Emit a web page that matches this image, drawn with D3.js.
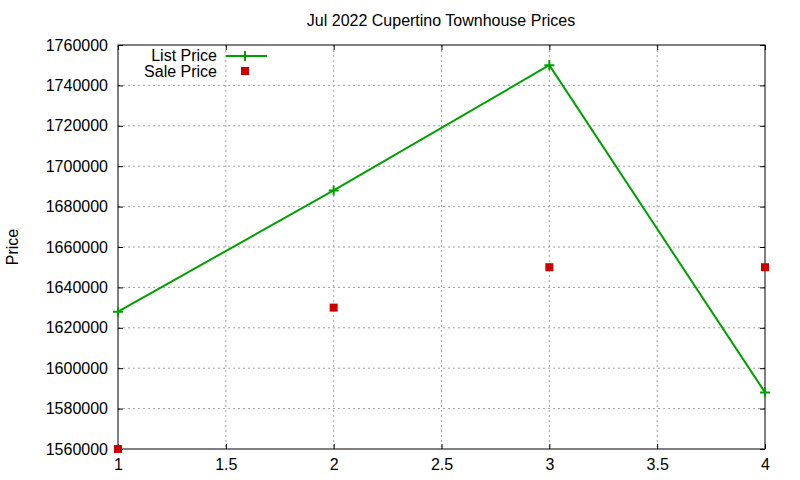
<!DOCTYPE html>
<html>
<head>
<meta charset="utf-8">
<script src="https://cdn.jsdelivr.net/npm/d3@7"></script>
<style>
  body { margin: 0; background: #fff; }
  text { font-family: "Liberation Sans", Arial, sans-serif; fill: #000; }
  .grid line { stroke: #a0a0a0; stroke-dasharray: 2,3; }
</style>
</head>
<body>
<div id="chart"></div>
<script>
// chart data
const title = "Jul 2022 Cupertino Townhouse Prices"
const months = [1, 2, 3, 4]
const listPrice = [1628000, 1688000, 1750000, 1588000]
const salePrice = [1560000, 1630000, 1650000, 1650000]
const xTicks = [1, 1.5, 2, 2.5, 3, 3.5, 4]
const yTicks = [1560000, 1580000, 1600000, 1620000, 1640000, 1660000, 1680000, 1700000, 1720000, 1740000, 1760000]

var margin = { top: 45, right: 35, bottom: 31, left: 118 },
    width = 800 - margin.left - margin.right,
    height = 480 - margin.top - margin.bottom;

let svg = d3.select("#chart")
    .append("svg")
    .attr("width", 800)
    .attr("height", 480)

let g = svg.append("g")
    .attr("transform", "translate(" + margin.left + "," + margin.top + ")")

let xScale = d3.scaleLinear().domain([1, 4]).range([0, width])
let yScale = d3.scaleLinear().domain([1560000, 1760000]).range([height, 0])

// grid lines
g.append("g").attr("class", "grid")
    .selectAll("line")
    .data(xTicks.slice(1, -1))
    .enter().append("line")
    .attr("x1", d => xScale(d)).attr("x2", d => xScale(d))
    .attr("y1", 0).attr("y2", height)

g.append("g").attr("class", "grid")
    .selectAll("line")
    .data(yTicks.slice(1, -1))
    .enter().append("line")
    .attr("y1", d => yScale(d)).attr("y2", d => yScale(d))
    .attr("x1", 0).attr("x2", width)

// axes, ticks inward, mirrored on top and right
const fmt = d3.format("")
function styleAxis(sel) {
    sel.select(".domain").remove()
    sel.selectAll("line").attr("stroke", "#000")
    sel.selectAll("text").style("font-size", "16px")
}

g.append("g")
    .attr("transform", "translate(0," + height + ")")
    .call(d3.axisBottom(xScale).tickValues(xTicks).tickFormat(fmt).tickSize(-5).tickPadding(10))
    .call(styleAxis)

g.append("g")
    .call(d3.axisLeft(yScale).tickValues(yTicks).tickFormat(fmt).tickSize(-5).tickPadding(10))
    .call(styleAxis)

g.append("g")
    .call(d3.axisTop(xScale).tickValues(xTicks).tickFormat("").tickSize(-5))
    .call(styleAxis)

g.append("g")
    .attr("transform", "translate(" + width + ",0)")
    .call(d3.axisRight(yScale).tickValues(yTicks).tickFormat("").tickSize(-5))
    .call(styleAxis)

// border
g.append("rect")
    .attr("width", width).attr("height", height)
    .attr("fill", "none").attr("stroke", "#000")

// title and axis label
svg.append("text")
    .attr("x", 441).attr("y", 26)
    .attr("text-anchor", "middle")
    .style("font-size", "16px")
    .text(title)

svg.append("text")
    .attr("transform", "translate(18,247) rotate(-90)")
    .attr("text-anchor", "middle")
    .style("font-size", "16px")
    .text("Price")

// list price line
const green = "#00a000"
const red = "#cc0000"

g.append("path")
    .datum(months.map((m, i) => [m, listPrice[i]]))
    .attr("fill", "none")
    .attr("stroke", green)
    .attr("stroke-width", 2)
    .attr("d", d3.line().x(d => xScale(d[0])).y(d => yScale(d[1])))

const plus = d3.symbol().type(d3.symbolCross)
function drawPlus(sel, x, y) {
    sel.append("path")
        .attr("d", "M" + (x - 5) + "," + y + "H" + (x + 5) + "M" + x + "," + (y - 5) + "V" + (y + 5))
        .attr("stroke", green).attr("stroke-width", 2)
}
months.forEach((m, i) => drawPlus(g, xScale(m), yScale(listPrice[i])))

// sale price points
g.append("g")
    .selectAll("rect")
    .data(months.map((m, i) => [m, salePrice[i]]))
    .enter().append("rect")
    .attr("x", d => xScale(d[0]) - 4)
    .attr("y", d => yScale(d[1]) - 4)
    .attr("width", 8).attr("height", 8)
    .attr("fill", red)

// legend
svg.append("text")
    .attr("x", 217).attr("y", 61)
    .attr("text-anchor", "end")
    .style("font-size", "16px")
    .text("List Price")
svg.append("line")
    .attr("x1", 226).attr("x2", 267).attr("y1", 56).attr("y2", 56)
    .attr("stroke", green).attr("stroke-width", 2)
drawPlus(svg, 245, 56)

svg.append("text")
    .attr("x", 217).attr("y", 77)
    .attr("text-anchor", "end")
    .style("font-size", "16px")
    .text("Sale Price")
svg.append("rect")
    .attr("x", 241).attr("y", 67).attr("width", 8).attr("height", 8)
    .attr("fill", red)
</script>
</body>
</html>
